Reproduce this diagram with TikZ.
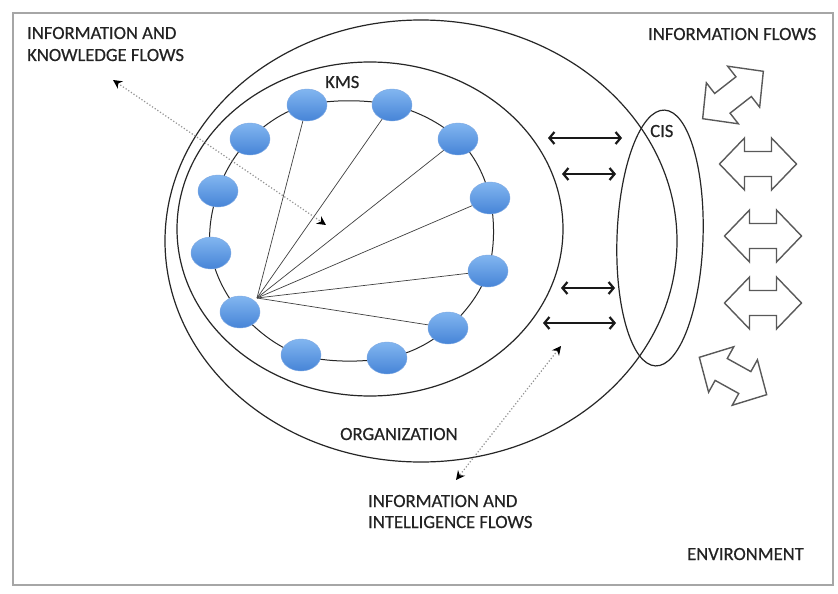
\documentclass[tikz,border=0pt]{standalone}
\usepackage{fontspec}
\setmainfont{Carlito}[FakeBold=0.5]
\usetikzlibrary{shapes.geometric,arrows.meta}
\definecolor{txt}{RGB}{35,35,35}
\definecolor{blueTop}{RGB}{130,182,240}
\definecolor{blueBot}{RGB}{70,132,215}
\tikzset{
  lbl/.style={font=\fontsize{18.6}{22}\selectfont, text=txt, inner sep=0pt, align=left},
  kmsnode/.style={ellipse, minimum width=40pt, minimum height=32pt, inner sep=0pt,
     top color=blueTop, bottom color=blueBot, draw=blueBot!70!white, line width=0.4pt},
  ringline/.style={draw=black!85, line width=1pt},
  spoke/.style={draw=black!75, line width=0.7pt},
  bigellipse/.style={draw=black!85, line width=1.2pt},
  dotflow/.style={draw=gray!85, dotted, line width=1.2pt, {Stealth[length=9pt,width=9pt,black]}-{Stealth[length=9pt,width=9pt,black]}},
  solidflow/.style={draw=black!90, line width=2.2pt, {Straight Barb[length=5pt,width=12pt]}-{Straight Barb[length=5pt,width=12pt]}},
  harrow/.style={draw=gray!70!black, fill=white, line width=1.4pt, line join=miter},
  frame/.style={draw=gray!70, line width=1.8pt}
}
\newcommand\hollowarrow[2]{%
  \draw[harrow, shift={#1}, rotate=#2] (-38.5,0) -- (-13.5,-26) -- (-13.5,-12.5) -- (13.5,-12.5) -- (13.5,-26) -- (38.5,0) -- (13.5,26) -- (13.5,12.5) -- (-13.5,12.5) -- (-13.5,26) -- cycle;%
}
\begin{document}
\begin{tikzpicture}[x=1pt,y=-1pt]
\useasboundingbox (0,0) rectangle (838,594);
\fill[white] (0,0) rectangle (838,594);
% frame
\draw[frame] (13,13) rectangle (833,585);
% organization, KMS, CIS
\draw[bigellipse] (421,241) ellipse [x radius=256, y radius=221];
\draw[bigellipse] (370,229) ellipse [x radius=193, y radius=167];
\draw[bigellipse, rotate around={-2:(660,238)}] (660,238) ellipse [x radius=43, y radius=128];
% KMS nodes positions
\coordinate (p1) at (307,105);
\coordinate (p2) at (392,105);
\coordinate (p3) at (458,139);
\coordinate (p4) at (490,198);
\coordinate (p5) at (488,271);
\coordinate (p6) at (448,328);
\coordinate (p7) at (387,358);
\coordinate (p8) at (301,355);
\coordinate (p9) at (240,312);
\coordinate (p10) at (211,253);
\coordinate (p11) at (218,191);
\coordinate (p12) at (250,139);
\draw[ringline] plot[smooth cycle, tension=0.6] coordinates {(p1) (p2) (p3) (p4) (p5) (p6) (p7) (p8) (p9) (p10) (p11) (p12)};
\coordinate (hub) at (257,298);
\foreach \i in {1,...,6} \draw[spoke] (hub) -- (p\i);
\foreach \i in {1,...,12} \node[kmsnode] (n\i) at (p\i) {};
% dotted flows
\coordinate (d1a) at (113,80);
\coordinate (d1b) at (326,225);
\draw[dotflow] (d1a) -- (d1b);
\coordinate (d2a) at (561,346);
\coordinate (d2b) at (456,480);
\draw[dotflow] (d2a) -- (d2b);
% solid double arrows
\coordinate (s1a) at (548,138); \coordinate (s1b) at (622,138);
\coordinate (s2a) at (562,174); \coordinate (s2b) at (616,174);
\coordinate (s3a) at (561,288); \coordinate (s3b) at (615,288);
\coordinate (s4a) at (543,323); \coordinate (s4b) at (616,323);
\draw[solidflow] (s1a) -- (s1b);
\draw[solidflow] (s2a) -- (s2b);
\draw[solidflow] (s3a) -- (s3b);
\draw[solidflow] (s4a) -- (s4b);
% hollow arrows
\hollowarrow{(733,95)}{38}
\hollowarrow{(758,164)}{0}
\hollowarrow{(763,236)}{0}
\hollowarrow{(763,303)}{0}
\hollowarrow{(733,376)}{-29}
% labels
\node[lbl, anchor=base west] (l1a) at (27,39) {INFORMATION AND};
\node[lbl, anchor=base west] (l1b) at (27,61) {KNOWLEDGE FLOWS};
\node[lbl, anchor=base west] (kms) at (325,88) {KMS};
\node[lbl, anchor=base west] (iflows) at (648,40) {INFORMATION FLOWS};
\node[lbl, anchor=base west] (cis) at (650,137) {CIS};
\node[lbl, anchor=base west] (org) at (340,440) {ORGANIZATION};
\node[lbl, anchor=base west] (l2a) at (368,507) {INFORMATION AND};
\node[lbl, anchor=base west] (l2b) at (368,528) {INTELLIGENCE FLOWS};
\node[lbl, anchor=base west] (env) at (687,560) {ENVIRONMENT};
\end{tikzpicture}
\end{document}
